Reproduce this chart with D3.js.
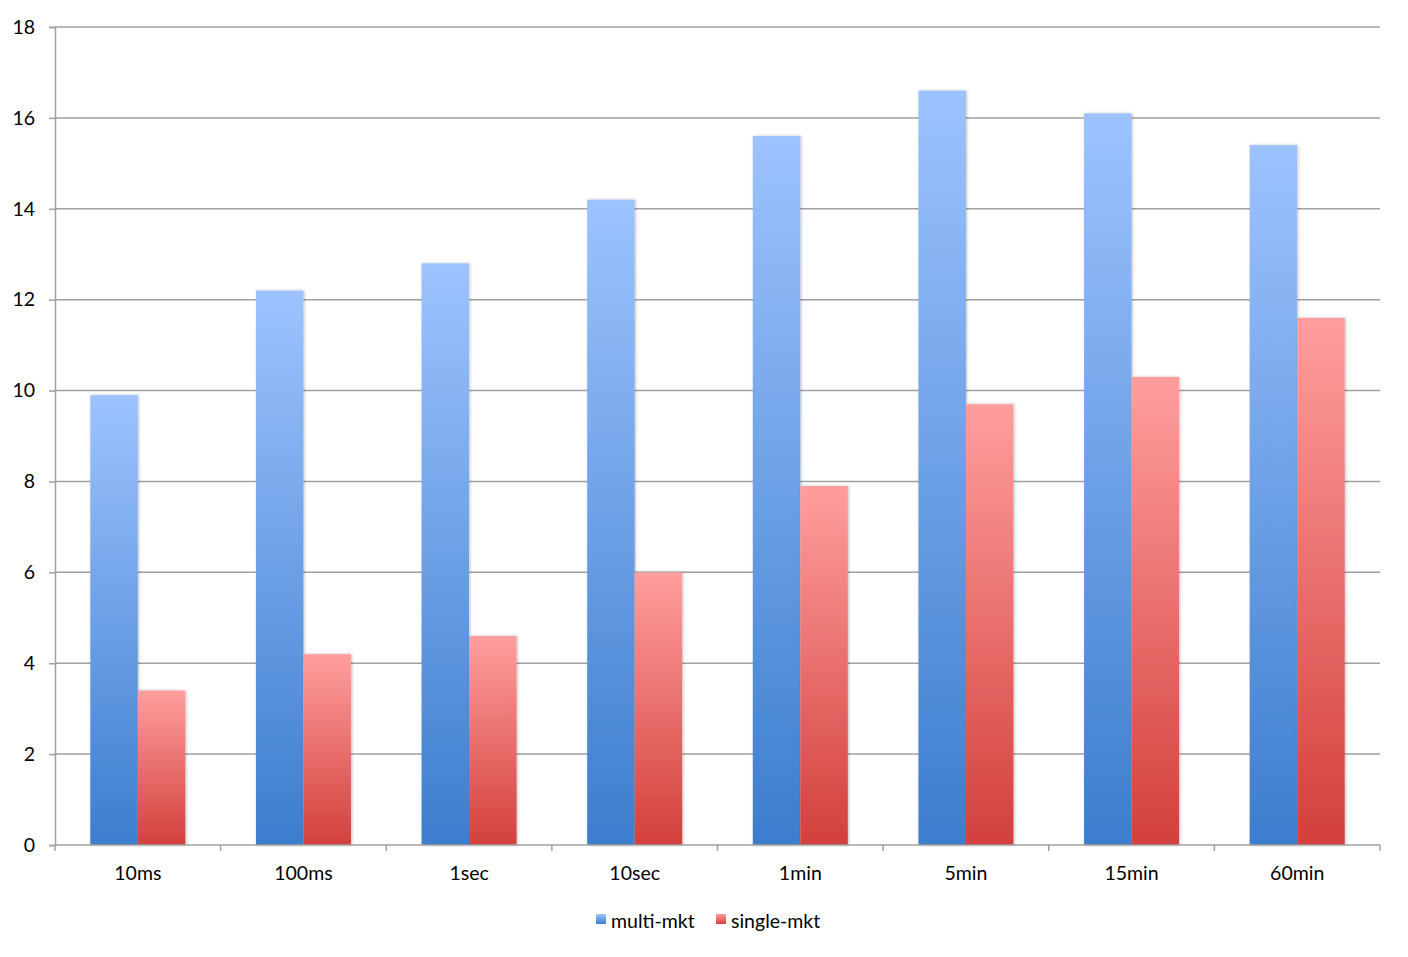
<!DOCTYPE html>
<html><head><meta charset="utf-8">
<script src="https://d3js.org/d3.v7.min.js"></script>
<style>body{margin:0;background:#fff}svg text{font-family:Lato,Calibri,sans-serif;}</style>
</head><body><svg id="c" width="1408" height="957"></svg>
<script>
const categories = ["10ms","100ms","1sec","10sec","1min","5min","15min","60min"];
const multiMkt = [9.9,12.2,12.8,14.2,15.6,16.6,16.1,15.4];
const singleMkt = [3.4,4.2,4.6,6.0,7.9,9.7,10.3,11.6];
const yTicks = [0,2,4,6,8,10,12,14,16,18];
const seriesNames = ["multi-mkt","single-mkt"];

const svg = d3.select("#c");
const L=55, R=1380, T=27, B=845;
const FS = 19.5;
const x = d3.scaleBand().domain(categories).range([L,R]);
const y = d3.scaleLinear().domain([0,18]).range([B,T]);
const barW = 47.5;

const defs = svg.append("defs");
const grads = [["gBlue","#9dc3ff","#3c7dcd"],["gRed","#ff9e9e","#d2403c"]];
grads.forEach(([id,top,bot])=>{
  const g=defs.append("linearGradient").attr("id",id).attr("x1",0).attr("y1",0).attr("x2",0).attr("y2",1);
  g.append("stop").attr("offset","0%").attr("stop-color",top);
  g.append("stop").attr("offset","100%").attr("stop-color",bot);
});
const f = defs.append("filter").attr("id","sh").attr("x","-20%").attr("y","-5%").attr("width","140%").attr("height","110%");
f.append("feGaussianBlur").attr("in","SourceAlpha").attr("stdDeviation",1.5).attr("result","b");
f.append("feOffset").attr("in","b").attr("dx",1).attr("dy",0).attr("result","o");
f.append("feComponentTransfer").attr("in","o").attr("result","o2").append("feFuncA").attr("type","linear").attr("slope",0.25);
const m=f.append("feMerge"); m.append("feMergeNode").attr("in","o2"); m.append("feMergeNode").attr("in","SourceGraphic");

// gridlines
svg.append("g").selectAll("line").data(yTicks.filter(d=>d>0)).join("line")
  .attr("x1",L).attr("x2",R).attr("y1",d=>y(d)).attr("y2",d=>y(d))
  .attr("stroke","#a0a0a0").attr("stroke-width",1.5);

// y axis
const ya = svg.append("g").attr("transform",`translate(${L},0)`)
  .call(d3.axisLeft(y).tickValues(yTicks).tickSize(6).tickPadding(14));
ya.select(".domain").attr("stroke","#a0a0a0").attr("stroke-width",1.5);
ya.selectAll(".tick line").attr("stroke","#a0a0a0").attr("stroke-width",1.5);
ya.selectAll("text").attr("font-size",FS).attr("fill","#000");

// bars
const bars = svg.append("g");
categories.forEach((c,i)=>{
  const cx = x(c)+x.bandwidth()/2;
  bars.append("rect").attr("x",cx-barW).attr("width",barW).attr("y",y(multiMkt[i])).attr("height",B-y(multiMkt[i]))
    .attr("fill","url(#gBlue)").attr("filter","url(#sh)");
  bars.append("rect").attr("x",cx).attr("width",barW).attr("y",y(singleMkt[i])).attr("height",B-y(singleMkt[i]))
    .attr("fill","url(#gRed)").attr("filter","url(#sh)");
});

// x axis
const xa = svg.append("g").attr("transform",`translate(0,${B})`)
  .call(d3.axisBottom(x).tickSize(0).tickPadding(21));
xa.select(".domain").attr("stroke","#a0a0a0").attr("stroke-width",1.5).attr("d",`M${L},0H${R}`);
xa.selectAll("text").attr("font-size",FS).attr("fill","#000");
const bounds = d3.range(categories.length+1).map(i=>L+i*x.step());
svg.append("g").selectAll("line").data(bounds).join("line")
  .attr("x1",d=>d).attr("x2",d=>d).attr("y1",B).attr("y2",B+6)
  .attr("stroke","#a0a0a0").attr("stroke-width",1.5);

// legend
const leg = svg.append("g");
const lx=[596,716];
seriesNames.forEach((n,i)=>{
  leg.append("rect").attr("x",lx[i]).attr("y",914).attr("width",10).attr("height",10).attr("fill",i?"url(#gRed)":"url(#gBlue)");
  leg.append("text").attr("x",lx[i]+15).attr("y",928).attr("font-size",FS).attr("fill","#000").text(n);
});
</script></body></html>
